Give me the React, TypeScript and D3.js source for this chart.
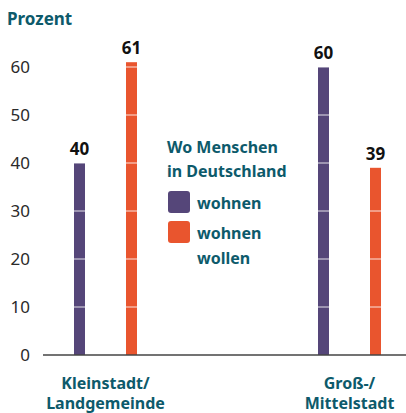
import React, { useEffect, useRef } from 'react';
import * as d3 from 'd3';

// Daten
const categories = ['Kleinstadt/Landgemeinde', 'Groß-/Mittelstadt'];
const categoryLines = [['Kleinstadt/', 'Landgemeinde'], ['Groß-/', 'Mittelstadt']];
const seriesNames = ['wohnen', 'wohnen wollen'];
const wohnen = [40, 60];
const wohnenWollen = [61, 39];
const yTicks = [0, 10, 20, 30, 40, 50, 60];

const colors = ['#554679', '#e9552e'];
const teal = '#0d5a6b';
const font = '"Noto Sans", sans-serif';

const App = () => {
  const svgRef = useRef<SVGSVGElement>(null);

  useEffect(() => {
    const width = 406;
    const height = 413;
    const svg = d3.select(svgRef.current);
    svg.selectAll('*').remove();
    svg.attr('width', width).attr('height', height);

    const y = d3.scaleLinear().domain([0, 60]).range([355, 67]);
    const x = d3.scalePoint<string>().domain(categories).range([105.5, 349.5]);
    const xs = d3.scalePoint<string>().domain(seriesNames).range([-26, 26]);
    const barW = 11;

    const values = [wohnen, wohnenWollen];

    // Titel
    svg.append('text')
      .attr('x', 7).attr('y', 25)
      .attr('font-family', font).attr('font-weight', 700).attr('font-size', 17)
      .attr('fill', teal)
      .text('Prozent');

    // Y-Achse Beschriftung
    svg.append('g')
      .selectAll('text')
      .data(yTicks)
      .enter().append('text')
      .attr('x', 30)
      .attr('y', d => y(d) + 6)
      .attr('text-anchor', 'end')
      .attr('font-family', font).attr('font-size', 17)
      .attr('fill', '#2a2a2a')
      .text(d => d);

    // Balken
    seriesNames.forEach((s, si) => {
      const g = svg.append('g');
      g.selectAll('rect')
        .data(values[si])
        .enter().append('rect')
        .attr('x', (d, i) => x(categories[i])! + xs(s)! - barW / 2)
        .attr('y', d => y(d))
        .attr('width', barW)
        .attr('height', d => y(0) - y(d))
        .attr('fill', colors[si]);

      g.selectAll('text')
        .data(values[si])
        .enter().append('text')
        .attr('x', (d, i) => x(categories[i])! + xs(s)!)
        .attr('y', d => y(d) - 8)
        .attr('text-anchor', 'middle')
        .attr('font-family', font).attr('font-weight', 700).attr('font-size', 17)
        .attr('fill', '#111')
        .text(d => d);
    });

    // Gitterlinien über den Balken (weiß)
    svg.append('g')
      .selectAll('line')
      .data(yTicks.filter(d => d > 0))
      .enter().append('line')
      .attr('x1', 43).attr('x2', width)
      .attr('y1', d => y(d)).attr('y2', d => y(d))
      .attr('stroke', '#fff').attr('stroke-opacity', 0.85).attr('stroke-width', 1);

    // Nulllinie
    svg.append('line')
      .attr('x1', 43).attr('x2', width)
      .attr('y1', y(0)).attr('y2', y(0))
      .attr('stroke', '#444').attr('stroke-width', 1.5);

    // Kategorien
    categories.forEach((c, i) => {
      categoryLines[i].forEach((line, li) => {
        svg.append('text')
          .attr('x', x(c)!)
          .attr('y', 389 + li * 20)
          .attr('text-anchor', 'middle')
          .attr('font-family', font).attr('font-weight', 700).attr('font-size', 16)
          .attr('fill', teal)
          .text(line);
      });
    });

    // Legende
    const lg = svg.append('g');
    ['Wo Menschen', 'in Deutschland'].forEach((t, i) => {
      lg.append('text')
        .attr('x', 167).attr('y', 153 + i * 24)
        .attr('font-family', font).attr('font-weight', 700).attr('font-size', 16)
        .attr('fill', teal)
        .text(t);
    });
    const legendRows = [['wohnen'], ['wohnen', 'wollen']];
    legendRows.forEach((lines, i) => {
      lg.append('rect')
        .attr('x', 168).attr('y', 191 + i * 30)
        .attr('width', 22).attr('height', 22)
        .attr('rx', 3)
        .attr('fill', colors[i]);
      lines.forEach((t, li) => {
        lg.append('text')
          .attr('x', 197).attr('y', 209 + i * 30 + li * 25)
          .attr('font-family', font).attr('font-weight', 700).attr('font-size', 16)
          .attr('fill', teal)
          .text(t);
      });
    });
  }, []);

  return (
    <div style={{ position: 'absolute', left: 0, top: 0 }}>
      <svg ref={svgRef}></svg>
    </div>
  );
};

export default App;
